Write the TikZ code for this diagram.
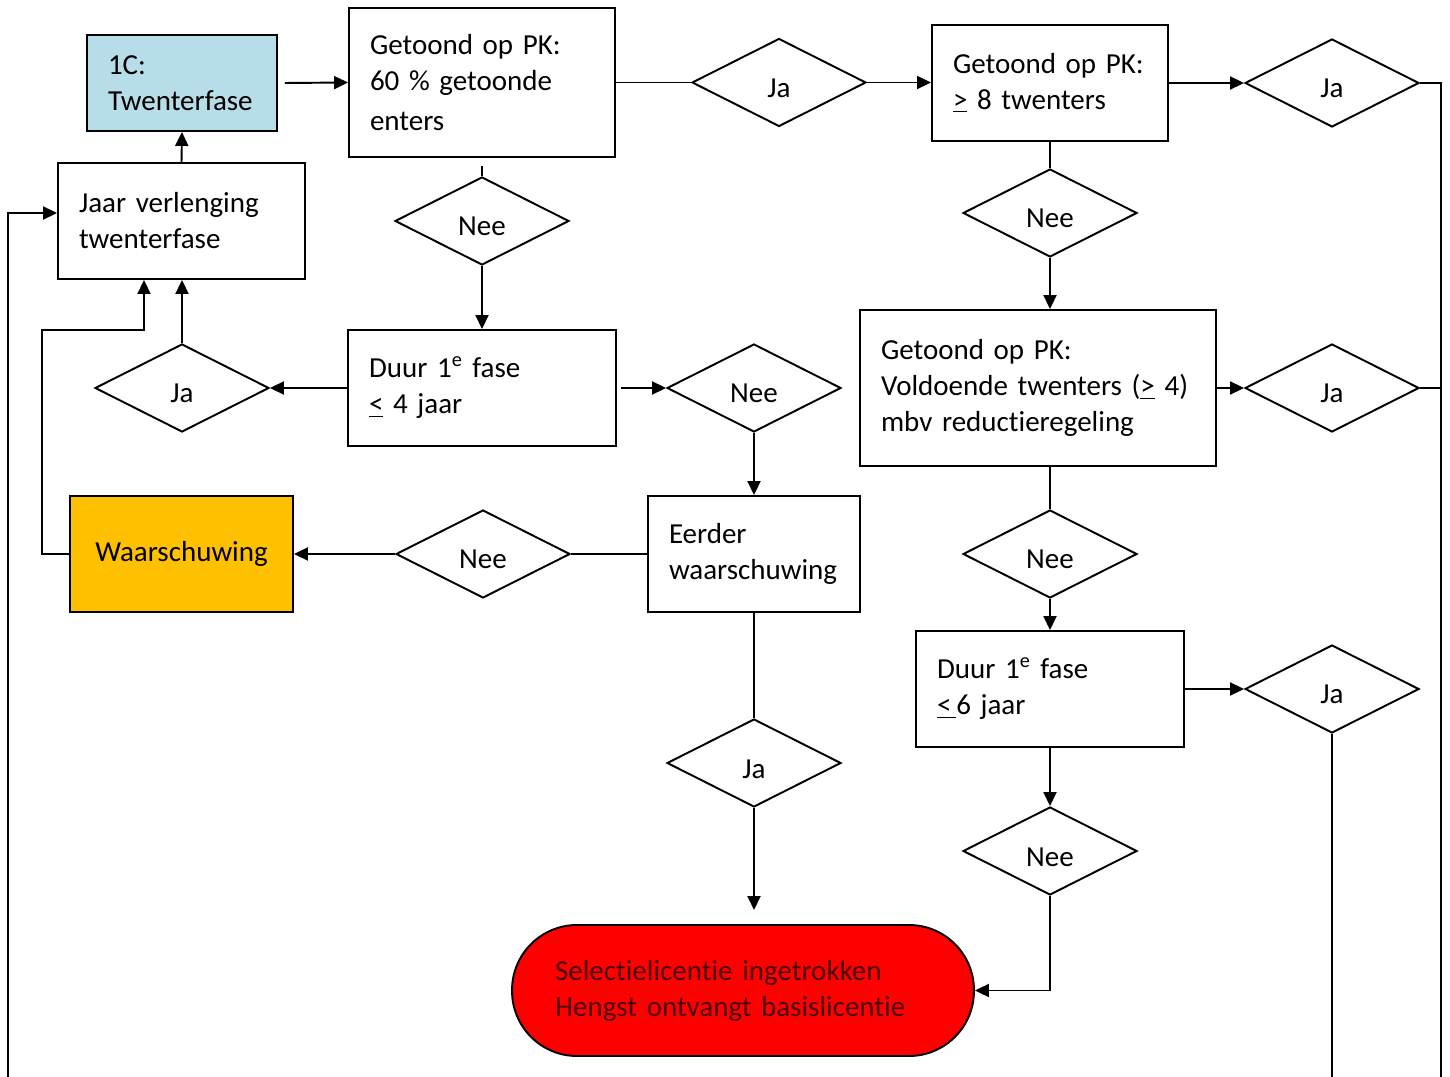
\documentclass[tikz,border=0pt]{standalone}
\usepackage{fontspec}
\setmainfont{Carlito}[Ligatures=NoCommon, WordSpace=0.8]
\usetikzlibrary{shapes.geometric,arrows.meta}

\definecolor{fasblauw}{HTML}{B7DEE8}
\definecolor{waarsch}{HTML}{FFC000}
\definecolor{stoprood}{HTML}{FF0000}
\definecolor{stoptekst}{HTML}{4A0000}

\tikzset{
    tekst/.style={font=\fontsize{16.5pt}{20.5pt}\selectfont},
    blok/.style={tekst, draw, rectangle, line width=1.1pt, inner xsep=0.42cm, align=left},
    keuze/.style={tekst, draw, diamond, line width=1.1pt, shape aspect=2,
        minimum width=3.48cm, minimum height=1.76cm, inner sep=0pt,
        text height=0.6cm, text depth=0pt},
    lijn/.style={line width=1.1pt},
    pijl/.style={lijn, -{Triangle[length=0.28cm,width=0.26cm]}}
}

\begin{document}
\begin{tikzpicture}[x=0.02cm,y=-0.02cm]
    \useasboundingbox (0,0) rectangle (1450,1077);

    \node[blok, fill=fasblauw, minimum width=3.8cm, minimum height=1.92cm, text width=2.96cm] (c1C) at (182,83) {1C:\\Twenterfase};
    \node[blok, minimum width=5.32cm, minimum height=2.98cm, text width=4.48cm] (pk60) at (482,82.5) {Getoond op PK:\\60 \% getoonde\\[2pt]enters};
    \node[keuze] (ja1) at (779,82.5) {Ja};
    \node[blok, minimum width=4.72cm, minimum height=2.32cm, text width=3.88cm] (pk8) at (1050,83) {Getoond op PK:\\\underline{>} 8 twenters};
    \node[keuze] (ja2) at (1332,83) {Ja};

    \node[keuze] (nee1) at (482,221) {Nee};
    \node[keuze] (nee2) at (1050,213) {Nee};
    \node[blok, minimum width=4.94cm, minimum height=2.32cm, text width=4.10cm] (jaar) at (181.5,221) {Jaar verlenging\\twenterfase};

    \node[keuze] (ja3) at (182,388) {Ja};
    \node[blok, minimum width=5.36cm, minimum height=2.32cm, text width=4.52cm] (duur4) at (482,388) {Duur 1\textsuperscript{e} fase\\\underline{<} 4 jaar};
    \node[keuze] (nee3) at (754,388) {Nee};
    \node[blok, minimum width=7.12cm, minimum height=3.12cm, text width=6.28cm] (pk4) at (1038,388) {Getoond op PK:\\Voldoende twenters (\underline{>} 4)\\mbv reductieregeling};
    \node[keuze] (ja4) at (1332,388) {Ja};

    \node[blok, fill=waarsch, align=center, minimum width=4.46cm, minimum height=2.32cm] (warn) at (181.5,554) {Waarschuwing};
    \node[keuze] (nee4) at (483,554) {Nee};
    \node[blok, minimum width=4.24cm, minimum height=2.32cm, text width=3.40cm] (eerder) at (754,554) {Eerder\\waarschuwing};
    \node[keuze] (nee5) at (1050,554) {Nee};

    \node[blok, minimum width=5.36cm, minimum height=2.32cm, text width=4.52cm] (duur6) at (1050,689) {Duur 1\textsuperscript{e} fase\\\underline{<\,}6 jaar};
    \node[keuze] (ja5) at (1332,689) {Ja};
    \node[keuze] (ja6) at (754,763) {Ja};
    \node[keuze] (nee6) at (1050,851) {Nee};

    \node[blok, fill=stoprood, text=stoptekst, rounded corners=1.3cm, inner xsep=0.86cm, minimum width=9.24cm, minimum height=2.62cm, text width=7.52cm] (stop) at (743,990.5) {Selectielicentie ingetrokken\\Hengst ontvangt basislicentie};

    % vrije eindpunten
    \coordinate (botL) at (8,1077);
    \coordinate (botR) at (1441,1077);
    \coordinate (knik) at (42,330);
    \coordinate (eind) at (754,910);

    % bovenste rij
    \draw[pijl] ([xshift=0.14cm]c1C.east) -- (pk60.west);
    \draw[lijn] (pk60.east) -- (ja1.west);
    \draw[pijl] (ja1.east) -- (ja1.east -| pk8.west);
    \draw[pijl] (pk8.east) -- (ja2.west);
    \draw[lijn] (ja2.east) -| (botR);
    \draw[lijn] (ja4.east) -- (ja4.east -| botR);
    \draw[lijn] (ja5.south) -- (ja5.south |- botR);
    \draw[pijl] (botL) |- ([yshift=0.16cm]jaar.west);

    % linker tak
    \draw[lijn] ([yshift=-0.16cm]pk60.south) -- (nee1.north);
    \draw[pijl] (nee1.south) -- (duur4.north);
    \draw[pijl] (duur4.west) -- (ja3.east);
    \draw[pijl] (ja3.north) -- (ja3.north |- jaar.south);
    \draw[pijl] (warn.west) -| (knik) -| ([xshift=-0.75cm]jaar.south);
    \draw[pijl] (jaar.north) -- (c1C.south);
    \draw[pijl] ([xshift=0.08cm]duur4.east) -- (nee3.west);
    \draw[pijl] (nee3.south) -- (eerder.north);
    \draw[lijn] (eerder.west) -- (nee4.east);
    \draw[pijl] (nee4.west) -- (warn.east);
    \draw[lijn] (eerder.south) -- (ja6.north);
    \draw[pijl] (ja6.south) -- (eind);

    % rechter tak
    \draw[lijn] (pk8.south) -- (nee2.north);
    \draw[pijl] (nee2.south) -- (nee2.south |- pk4.north);
    \draw[pijl] (pk4.east) -- (ja4.west);
    \draw[lijn] (nee5.north |- pk4.south) -- (nee5.north);
    \draw[pijl] (nee5.south) -- (duur6.north);
    \draw[pijl] (duur6.east) -- (ja5.west);
    \draw[pijl] (duur6.south) -- (nee6.north);
    \draw[pijl] (nee6.south) |- (stop.east);
\end{tikzpicture}
\end{document}
